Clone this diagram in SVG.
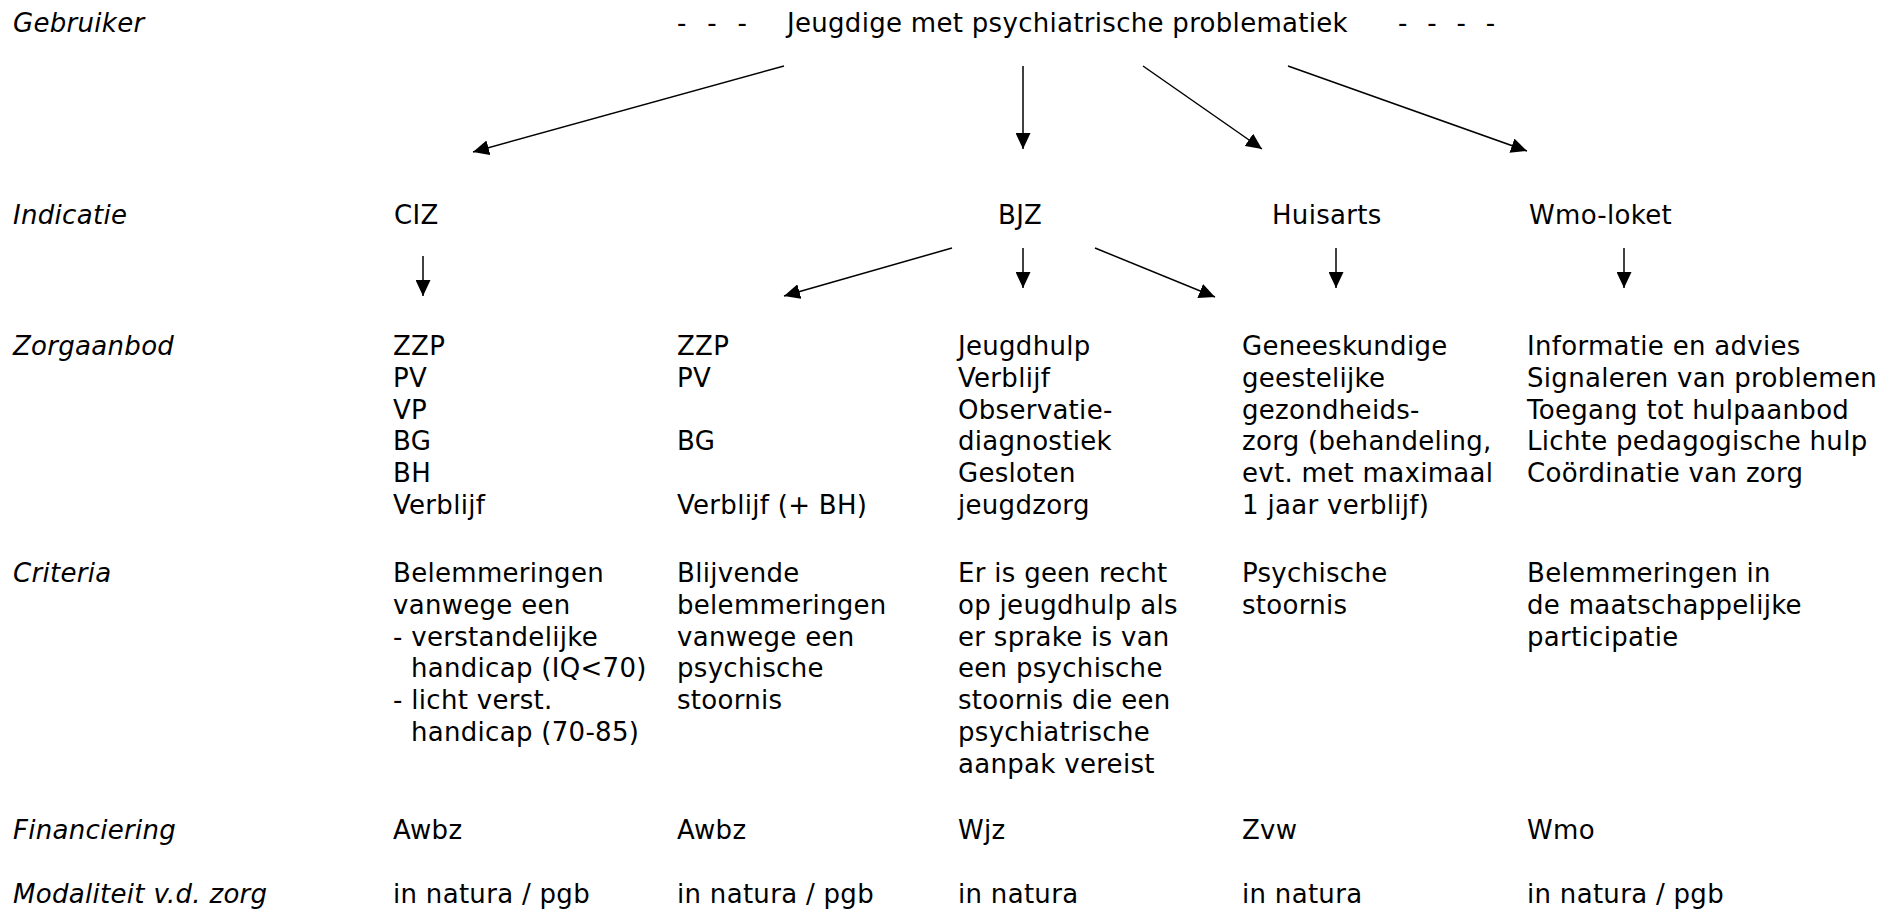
<svg xmlns="http://www.w3.org/2000/svg" width="1899" height="912" viewBox="0 0 1899 912">
<style>
text{font-family:"DejaVu Sans","Verdana",sans-serif;font-size:26px;fill:#000;letter-spacing:0.3px}
.lbl{font-style:italic}
.c{stroke:#000;stroke-width:1.5;fill:none;marker-end:url(#ah)}
</style>
<defs>
<marker id="ah" markerUnits="userSpaceOnUse" markerWidth="17" markerHeight="15" refX="16" refY="7.5" orient="auto" viewBox="0 0 17 15">
<path d="M0,0 L16,7.5 L0,15 z" fill="#000"/>
</marker>
</defs>
<rect width="1899" height="912" fill="#fff"/>
<g id="row-labels">
<text class="lbl" x="13" y="32">Gebruiker</text>
<text class="lbl" x="13" y="224">Indicatie</text>
<text class="lbl" x="13" y="355">Zorgaanbod</text>
<text class="lbl" x="13" y="582">Criteria</text>
<text class="lbl" x="13" y="839">Financiering</text>
<text class="lbl" x="13" y="903">Modaliteit v.d. zorg</text>
</g>
<g id="gebruiker">
<text x="677" y="32" word-spacing="12">- - -</text>
<text x="787" y="32">Jeugdige met psychiatrische problematiek</text>
<text x="1398" y="32" word-spacing="11">- - - -</text>
</g>
<g id="ciz"><text x="394" y="224">CIZ</text></g>
<g id="bjz"><text x="998" y="224">BJZ</text></g>
<g id="huisarts"><text x="1272" y="224">Huisarts</text></g>
<g id="wmo-loket"><text x="1529" y="224">Wmo-loket</text></g>
<g id="zorg-1"><text x="393" y="355"><tspan x="393" y="355">ZZP</tspan><tspan x="393" y="386.8">PV</tspan><tspan x="393" y="418.6">VP</tspan><tspan x="393" y="450.4">BG</tspan><tspan x="393" y="482.2">BH</tspan><tspan x="393" y="514">Verblijf</tspan></text></g>
<g id="zorg-2"><text x="677" y="355"><tspan x="677" y="355">ZZP</tspan><tspan x="677" y="386.8">PV</tspan><tspan x="677" y="450.4">BG</tspan><tspan x="677" y="514">Verblijf (+ BH)</tspan></text></g>
<g id="zorg-3"><text x="958" y="355"><tspan x="958" y="355">Jeugdhulp</tspan><tspan x="958" y="386.8">Verblijf</tspan><tspan x="958" y="418.6">Observatie-</tspan><tspan x="958" y="450.4">diagnostiek</tspan><tspan x="958" y="482.2">Gesloten</tspan><tspan x="958" y="514">jeugdzorg</tspan></text></g>
<g id="zorg-4"><text x="1242" y="355"><tspan x="1242" y="355">Geneeskundige</tspan><tspan x="1242" y="386.8">geestelijke</tspan><tspan x="1242" y="418.6">gezondheids-</tspan><tspan x="1242" y="450.4">zorg (behandeling,</tspan><tspan x="1242" y="482.2">evt. met maximaal</tspan><tspan x="1242" y="514">1 jaar verblijf)</tspan></text></g>
<g id="zorg-5"><text x="1527" y="355"><tspan x="1527" y="355">Informatie en advies</tspan><tspan x="1527" y="386.8">Signaleren van problemen</tspan><tspan x="1527" y="418.6">Toegang tot hulpaanbod</tspan><tspan x="1527" y="450.4">Lichte pedagogische hulp</tspan><tspan x="1527" y="482.2">Coördinatie van zorg</tspan></text></g>
<g id="criteria-1"><text x="393" y="582"><tspan x="393" y="582">Belemmeringen</tspan><tspan x="393" y="613.8">vanwege een</tspan><tspan x="393" y="645.6">- verstandelijke</tspan><tspan x="411" y="677.4">handicap (IQ&lt;70)</tspan><tspan x="393" y="709.2">- licht verst.</tspan><tspan x="411" y="741">handicap (70-85)</tspan></text></g>
<g id="criteria-2"><text x="677" y="582"><tspan x="677" y="582">Blijvende</tspan><tspan x="677" y="613.8">belemmeringen</tspan><tspan x="677" y="645.6">vanwege een</tspan><tspan x="677" y="677.4">psychische</tspan><tspan x="677" y="709.2">stoornis</tspan></text></g>
<g id="criteria-3"><text x="958" y="582"><tspan x="958" y="582">Er is geen recht</tspan><tspan x="958" y="613.8">op jeugdhulp als</tspan><tspan x="958" y="645.6">er sprake is van</tspan><tspan x="958" y="677.4">een psychische</tspan><tspan x="958" y="709.2">stoornis die een</tspan><tspan x="958" y="741">psychiatrische</tspan><tspan x="958" y="772.8">aanpak vereist</tspan></text></g>
<g id="criteria-4"><text x="1242" y="582"><tspan x="1242" y="582">Psychische</tspan><tspan x="1242" y="613.8">stoornis</tspan></text></g>
<g id="criteria-5"><text x="1527" y="582"><tspan x="1527" y="582">Belemmeringen in</tspan><tspan x="1527" y="613.8">de maatschappelijke</tspan><tspan x="1527" y="645.6">participatie</tspan></text></g>
<g id="financiering">
<text x="393" y="839">Awbz</text>
<text x="677" y="839">Awbz</text>
<text x="958" y="839">Wjz</text>
<text x="1242" y="839">Zvw</text>
<text x="1527" y="839">Wmo</text>
</g>
<g id="modaliteit">
<text x="393" y="903">in natura / pgb</text>
<text x="677" y="903">in natura / pgb</text>
<text x="958" y="903">in natura</text>
<text x="1242" y="903">in natura</text>
<text x="1527" y="903">in natura / pgb</text>
</g>
<g id="connectors">
<line class="c" x1="784" y1="66" x2="473" y2="152"/>
<line class="c" x1="1023" y1="66" x2="1023" y2="149"/>
<line class="c" x1="1143" y1="66" x2="1262" y2="149"/>
<line class="c" x1="1288" y1="66" x2="1527" y2="151"/>
<line class="c" x1="423" y1="256" x2="423" y2="296"/>
<line class="c" x1="952" y1="248" x2="784" y2="296"/>
<line class="c" x1="1023" y1="248" x2="1023" y2="288"/>
<line class="c" x1="1095" y1="248" x2="1215" y2="297"/>
<line class="c" x1="1336" y1="248" x2="1336" y2="288"/>
<line class="c" x1="1624" y1="248" x2="1624" y2="288"/>
</g>
</svg>
